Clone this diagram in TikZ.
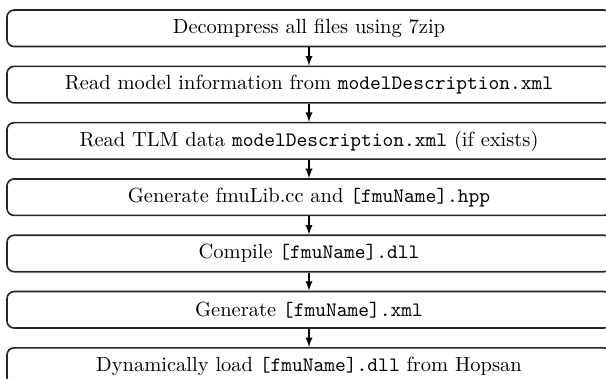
\documentclass[tikz,border=0pt]{standalone}
\usetikzlibrary{arrows}
\begin{document}
\begin{tikzpicture}[x=0.488pt,y=-0.488pt,
  stepbox/.style={draw=black!85, line width=0.8pt, rounded corners=3.5pt,
    minimum width=294.8pt, minimum height=17.8pt, inner sep=0pt, font=\normalsize},
  flow/.style={-latex, line width=0.6pt}]
\clip (0,0) rectangle (606,379);
\useasboundingbox (0,0) rectangle (606,379);
\node[stepbox] (s1) at (309,28.3) {Decompress all files using 7zip};
\node[stepbox] (s2) at (309,84.6) {Read model information from \texttt{modelDescription.xml}};
\node[stepbox] (s3) at (309,140.9) {Read TLM data \texttt{modelDescription.xml} (if exists)};
\node[stepbox] (s4) at (309,197.2) {Generate fmuLib.cc and \texttt{[fmuName].hpp}};
\node[stepbox] (s5) at (309,253.5) {Compile \texttt{[fmuName].dll}};
\node[stepbox] (s6) at (309,309.8) {Generate \texttt{[fmuName].xml}};
\node[stepbox] (s7) at (309,366.1) {Dynamically load \texttt{[fmuName].dll} from Hopsan};
\foreach \a/\b in {s1/s2,s2/s3,s3/s4,s4/s5,s5/s6,s6/s7}
  \draw[flow] (\a) -- (\b);
\end{tikzpicture}
\end{document}
